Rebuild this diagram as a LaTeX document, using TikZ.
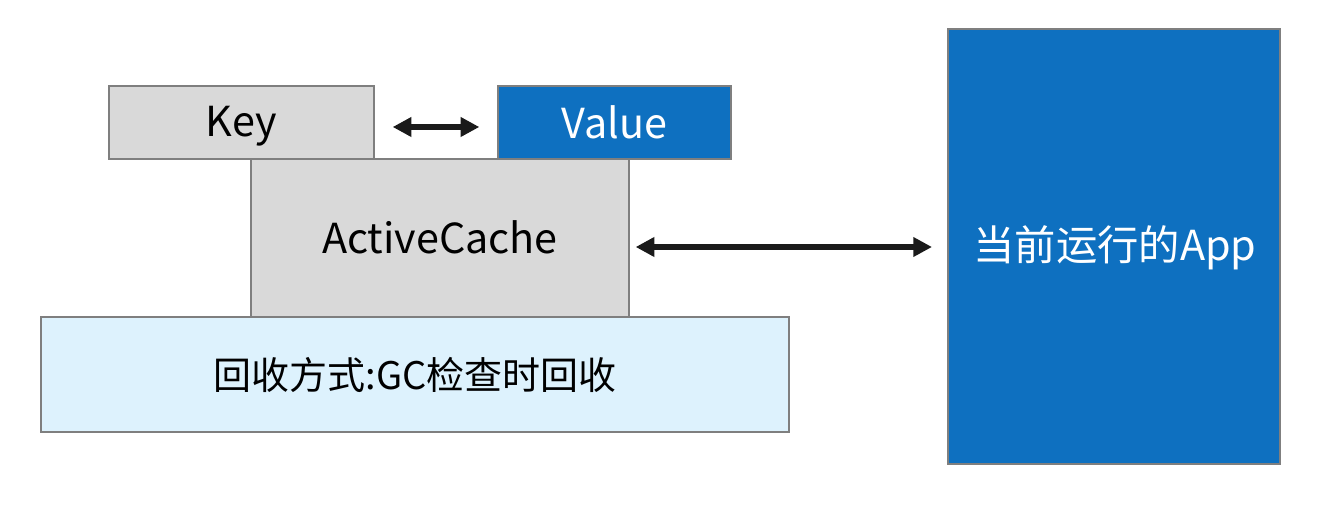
\documentclass[tikz,border=0pt]{standalone}
\usepackage{fontspec}
\setmainfont{Noto Sans CJK SC}
\usetikzlibrary{arrows.meta}
\definecolor{boxgray}{HTML}{D9D9D9}
\definecolor{boxblue}{HTML}{0E70C0}
\definecolor{lightblue}{HTML}{DDF2FD}
\definecolor{edgegray}{HTML}{7F7F7F}
\definecolor{arrowblack}{HTML}{1A1A1A}
\begin{document}
\begin{tikzpicture}[x=0.75pt,y=-0.75pt,
  box/.style={draw=edgegray,line width=1.5pt,inner sep=0pt},
  graybox/.style={box,fill=boxgray,text=black},
  bluebox/.style={box,fill=boxblue,text=white},
  lbbox/.style={box,fill=lightblue,text=black},
  lbl/.style={font=\fontsize{31}{36}\selectfont},
  dbl/.style={draw=arrowblack,line width=4.4pt,{Triangle[length=14pt,width=14pt]}-{Triangle[length=14pt,width=14pt]}}
]
\useasboundingbox (0,0) rectangle (1321,505);
\draw[graybox] (109,86) rectangle (374,159);
\node[lbl] (key) at (241.5,126) {Key};
\coordinate (keyE) at (374,127);
\draw[bluebox] (498,86) rectangle (731,159);
\node[lbl,text=white] (value) at (614.5,122.5) {Value};
\coordinate (valW) at (498,127);
\draw[lbbox] (41,317) rectangle (789,432);
\node[font=\fontsize{28.5}{34}\selectfont] (gc) at (415,374.5) {回收方式:GC检查时回收};
\draw[graybox] (251,159) rectangle (629,317);
\node[lbl] (ac) at (440,237.5) {ActiveCache};
\coordinate (acE) at (629,247);
\draw[bluebox] (948,29) rectangle (1280,464);
\node[lbl,text=white] (app) at (1115,248) {当前运行的App};
\coordinate (appW) at (948,247);
\draw[dbl] ([xshift=14]keyE) -- ([xshift=-14]valW);
\draw[dbl] ([xshift=5]acE) -- ([xshift=-12]appW);
\end{tikzpicture}
\end{document}
